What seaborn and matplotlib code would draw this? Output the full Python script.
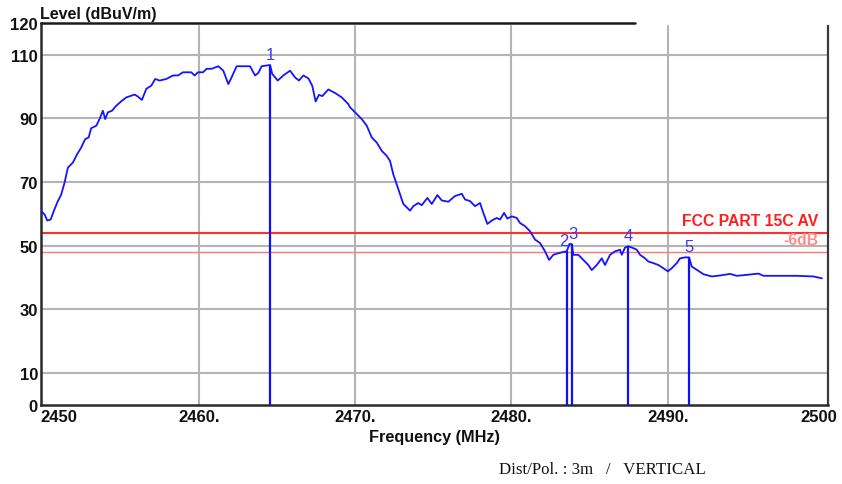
import matplotlib
matplotlib.use("Agg")
import matplotlib.pyplot as plt
import numpy as np
import pandas as pd
import seaborn as sns
from matplotlib.transforms import ScaledTranslation

# Measured field strength trace
freq_mhz = [
    2449.87, 2450.12, 2450.29, 2450.51, 2450.72, 2450.97, 2451.18, 2451.40, 2451.61, 2451.93,
    2452.21, 2452.46, 2452.72, 2452.94, 2453.10, 2453.43, 2453.64, 2453.85, 2454.00, 2454.17,
    2454.43, 2454.71, 2455.03, 2455.35, 2455.88, 2456.09, 2456.35, 2456.63, 2456.95, 2457.20,
    2457.48, 2457.91, 2458.34, 2458.66, 2458.98, 2459.51, 2459.72, 2459.94, 2460.26, 2460.49,
    2460.81, 2461.24, 2461.56, 2461.88, 2462.09, 2462.41, 2463.27, 2463.59, 2463.80, 2464.01,
    2464.55, 2464.69, 2465.04, 2465.40, 2465.83, 2466.15, 2466.40, 2466.68, 2467.00, 2467.25,
    2467.47, 2467.68, 2467.89, 2468.28, 2468.71, 2469.14, 2469.56, 2469.67, 2469.99, 2470.42,
    2470.74, 2471.06, 2471.38, 2471.70, 2472.02, 2472.23, 2472.44, 2472.66, 2472.87, 2473.08,
    2473.51, 2473.72, 2474.04, 2474.26, 2474.62, 2474.90, 2475.26, 2475.54, 2475.96, 2476.39,
    2476.82, 2477.03, 2477.35, 2477.67, 2477.99, 2478.20, 2478.46, 2478.74, 2479.06, 2479.27,
    2479.53, 2479.74, 2480.02, 2480.34, 2480.55, 2480.87, 2481.19, 2481.51, 2481.83, 2482.15,
    2482.41, 2482.68, 2483.00, 2483.32, 2483.54, 2483.71, 2483.86, 2483.96, 2484.28, 2484.60,
    2484.92, 2485.14, 2485.46, 2485.78, 2485.99, 2486.31, 2486.63, 2486.95, 2487.06, 2487.27,
    2487.48, 2487.80, 2488.02, 2488.23, 2488.55, 2488.76, 2489.08, 2489.40, 2489.72, 2490.01,
    2490.26, 2490.58, 2490.79, 2491.11, 2491.37, 2491.54, 2491.86, 2492.29, 2492.82, 2493.35,
    2494.00, 2494.42, 2495.06, 2495.81, 2496.13, 2497.20, 2498.26, 2499.33, 2499.87,
]
level_dbuv = [
    61.0, 59.8, 57.9, 58.2, 61.0, 64.0, 66.0, 69.8, 74.5, 76.1,
    78.8, 80.8, 83.5, 84.0, 86.9, 87.7, 89.8, 92.4, 89.8, 91.9,
    92.4, 94.0, 95.4, 96.6, 97.5, 96.9, 95.8, 99.3, 100.3, 102.4,
    101.9, 102.4, 103.5, 103.5, 104.5, 104.5, 103.5, 104.5, 104.5, 105.6,
    105.6, 106.4, 105.0, 100.8, 102.9, 106.4, 106.4, 103.5, 104.3, 106.4,
    106.8, 104.0, 101.9, 103.5, 105.0, 102.9, 101.9, 103.5, 102.6, 100.3,
    95.3, 97.4, 97.0, 99.1, 98.0, 96.6, 94.5, 93.5, 91.9, 89.8,
    87.7, 84.0, 82.4, 79.8, 78.2, 76.6, 72.4, 69.2, 66.1, 63.1,
    61.0, 62.4, 63.4, 62.7, 65.0, 63.1, 65.9, 64.2, 63.8, 65.6,
    66.3, 64.5, 64.0, 62.4, 63.4, 60.3, 56.8, 57.9, 58.7, 58.2,
    60.3, 58.5, 59.2, 58.7, 57.1, 56.1, 54.5, 51.9, 50.8, 48.2,
    45.5, 47.1, 47.6, 48.0, 48.2, 50.5, 50.5, 47.1, 47.1, 45.5,
    43.9, 42.3, 43.9, 46.0, 43.9, 47.1, 48.2, 48.7, 47.1, 49.4,
    49.8, 49.2, 48.7, 47.1, 46.0, 45.0, 44.5, 43.9, 42.9, 41.9,
    42.9, 44.5, 46.0, 46.3, 46.3, 43.4, 42.4, 41.0, 40.3, 40.6,
    41.1, 40.5, 40.8, 41.2, 40.5, 40.5, 40.5, 40.3, 39.7,
]

# Peak markers
marker_ids = ["1", "2", "3", "4", "5"]
marker_freq = [2464.55, 2483.54, 2483.86, 2487.48, 2491.37]
marker_level = [106.8, 48.2, 50.5, 49.8, 46.3]

# Limit lines
limit_names = ["FCC PART 15C AV", "-6dB"]
limit_levels = [54.0, 48.0]

# Axis ticks
x_ticks = [2450, 2460, 2470, 2480, 2490, 2500]
x_tick_labels = ["2450", "2460.", "2470.", "2480.", "2490.", "2500"]
y_ticks = [0, 10, 30, 50, 70, 90, 110, 120]
y_tick_labels = ["0", "10", "30", "50", "70", "90", "110", "120"]
x_grid = [2460, 2470, 2480, 2490]
y_grid = [10, 30, 50, 70, 90, 110]

sns.set_theme(style="white")
plt.rcParams["font.family"] = ["Liberation Sans", "DejaVu Sans"]

fig = plt.figure(figsize=(8.42, 4.85), dpi=100)
ax = fig.add_axes([0.0483, 0.1637, 0.9347, 0.7868])

ax.set_xlim(2449.87, 2500.24)
ax.set_ylim(0, 120)

for g in x_grid:
    ax.plot([g, g], [0, 119], color="#b4b4b4", lw=1.5, zorder=1)
for g in y_grid:
    ax.axhline(g, color="#b4b4b4", lw=1.5, zorder=1)

df = pd.DataFrame({"freq": freq_mhz, "level": level_dbuv})
sns.lineplot(data=df, x="freq", y="level", ax=ax, color="#1414ff", lw=1.3,
             sort=False, estimator=None, zorder=3)

# Limit lines with their captions
limit_colors = ["#ff3030", "#ff7878"]
limit_widths = [1.5, 1.0]
text_colors = ["#ff1e1e", "#ff8c8c"]
for name, lvl, lc, lw, tc in zip(limit_names, limit_levels, limit_colors, limit_widths, text_colors):
    ax.axhline(lvl, color=lc, lw=lw, zorder=2)
    ax.annotate(name, xy=(0.9877, lvl), xycoords=ax.get_yaxis_transform(),
                xytext=(0, 8.9), textcoords="offset points", ha="right", va="center",
                color=tc, fontsize=11.3, fontweight="bold")

# Marker stems and numbers
ax.vlines(marker_freq, 0, marker_level, color="#1010ff", lw=1.6, zorder=4)
label_shift = {"2": -2.0, "3": 1.0}
for mid, f, lvl in zip(marker_ids, marker_freq, marker_level):
    ax.annotate(mid, xy=(f, lvl), xytext=(label_shift.get(mid, 0), 2.5),
                textcoords="offset points", ha="center", va="bottom",
                color="#3b3bf0", fontsize=12)

# Axis frame
ax.spines["top"].set_visible(False)
ax.spines["left"].set_color("#2a2a2a")
ax.spines["left"].set_linewidth(1.8)
ax.spines["bottom"].set_color("#2a2a2a")
ax.spines["bottom"].set_linewidth(1.8)
ax.spines["right"].set_color("#3a3a3a")
ax.spines["right"].set_linewidth(1.6)
ax.spines["right"].set_bounds(0, 119)
ax.plot([0, 0.755], [1, 1], transform=ax.transAxes, color="#1a1a1a", lw=1.8,
        clip_on=False, zorder=5)

ax.set_xticks(x_ticks)
ax.set_xticklabels(x_tick_labels, fontsize=12, fontweight="bold", color="#111111")
ax.set_yticks(y_ticks)
ax.set_yticklabels(y_tick_labels, fontsize=12, fontweight="bold", color="#111111")
ax.tick_params(axis="both", length=0)
ax.tick_params(axis="y", pad=2)
ax.tick_params(axis="x", pad=3)
xlabels = ax.get_xticklabels()
xlabels[0].set_horizontalalignment("left")
xlabels[0].set_transform(xlabels[0].get_transform() + ScaledTranslation(-2 / 100, 0, fig.dpi_scale_trans))
xlabels[-1].set_horizontalalignment("center")
xlabels[-1].set_transform(xlabels[-1].get_transform() + ScaledTranslation(-5 / 100, 0, fig.dpi_scale_trans))
ax.set_xlabel("")
ax.set_ylabel("")

fig.text(40 / 842, 1 - 14 / 485, "Level (dBuV/m)", ha="left", va="center",
         fontsize=11.5, fontweight="bold", color="#111111")
fig.text(434 / 842, 1 - 438 / 485, "Frequency (MHz)", ha="center", va="center",
         fontsize=11.7, fontweight="bold", color="#111111")
fig.text(499 / 842, 1 - 470 / 485, "Dist/Pol. : 3m   /   VERTICAL", ha="left", va="center",
         fontsize=12.2, family=["Liberation Serif", "DejaVu Serif"], color="#111111")

fig.savefig("out.png", dpi=100, facecolor="white")
